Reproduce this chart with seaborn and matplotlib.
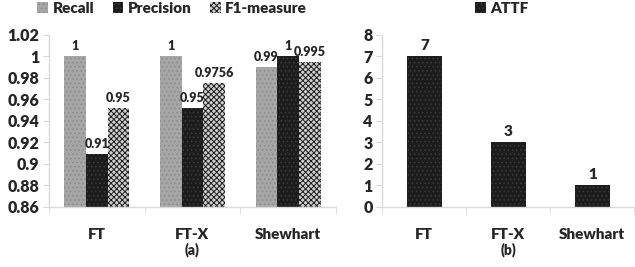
import pandas as pd
import matplotlib
matplotlib.use("Agg")
import matplotlib.pyplot as plt
import matplotlib.patches as mpatches
import seaborn as sns

sns.set_style("white")
plt.rcParams['font.family'] = ['Lato', 'DejaVu Sans']
plt.rcParams['font.weight'] = 'heavy'
plt.rcParams['hatch.linewidth'] = 0.7

# data
methods = ["FT", "FT-X", "Shewhart"]
recall = [1.0, 1.0, 0.99]
precision = [0.909, 0.952, 1.0]
f1 = [0.952, 0.9756, 0.995]
recall_labels = ["1", "1", "0.99"]
precision_labels = ["0.91", "0.95", "1"]
f1_labels = ["0.95", "0.9756", "0.995"]
attf = [7, 3, 1]
attf_labels = ["7", "3", "1"]

df = pd.DataFrame({
    "method": methods * 3,
    "metric": ["Recall"] * 3 + ["Precision"] * 3 + ["F1-measure"] * 3,
    "value": recall + precision + f1,
})
df_attf = pd.DataFrame({"method": methods, "ATTF": attf})

fig = plt.figure(figsize=(6.35, 2.67), dpi=100)
ax1 = fig.add_axes([0.077, 0.225, 0.452, 0.644])
ax2 = fig.add_axes([0.602, 0.225, 0.397, 0.644])

grey = "#d9d9d9"
W = 'heavy'

# (a)
sns.barplot(data=df, x="method", y="value", hue="metric", ax=ax1,
            width=0.68, saturation=1, legend=False,
            palette=["#a6a6a6", "#1c1c1c", "#ffffff"])
styles = [("#a6a6a6", "#8c8c8c", "...."), ("#1c1c1c", "#3a3a3a", "...."),
          ("#cfcfcf", "#1c1c1c", "xxxxxx")]
for cont, (fc, ec, h) in zip(ax1.containers, styles):
    for bar in cont:
        bar.set_facecolor(fc)
        bar.set_edgecolor(ec)
        bar.set_hatch(h)
        bar.set_linewidth(0)
for cont, labs in zip(ax1.containers, [recall_labels, precision_labels, f1_labels]):
    ax1.bar_label(cont, labels=labs, padding=3, fontsize=9, fontweight=W)
ax1.set_ylim(0.86, 1.02)
ax1.set_yticks([0.86, 0.88, 0.9, 0.92, 0.94, 0.96, 0.98, 1.0, 1.02])
ax1.set_yticklabels(["0.86", "0.88", "0.9", "0.92", "0.94", "0.96", "0.98", "1", "1.02"])
ax1.set_xlim(-0.5, 2.5)
ax1.set_xlabel("(a)", fontsize=10, fontweight=W, labelpad=1)
ax1.set_ylabel("")
handles = [mpatches.Patch(facecolor=fc, edgecolor=ec, hatch=h, linewidth=0, label=l)
           for (fc, ec, h), l in zip(styles, ["Recall", "Precision", "F1-measure"])]
ax1.legend(handles=handles, loc="center", bbox_to_anchor=(0.43, 1.155), ncol=3,
           frameon=False, fontsize=11, handlelength=0.7, handleheight=0.7,
           handletextpad=0.3, columnspacing=1.2, borderaxespad=0, borderpad=0)

# (b)
sns.barplot(data=df_attf, x="method", y="ATTF", ax=ax2, color="#1c1c1c",
            width=0.41, saturation=1)
for bar in ax2.patches:
    bar.set_hatch("....")
    bar.set_edgecolor("#3a3a3a")
    bar.set_linewidth(0)
ax2.bar_label(ax2.containers[0], labels=attf_labels, padding=3, fontsize=11, fontweight=W)
ax2.set_ylim(0, 8)
ax2.set_yticks(range(0, 9))
ax2.set_xlim(-0.5, 2.5)
ax2.set_xlabel("(b)", fontsize=10, fontweight=W, labelpad=1)
ax2.set_ylabel("")
h2 = [mpatches.Patch(facecolor="#1c1c1c", edgecolor="#3a3a3a", hatch="....",
                     linewidth=0, label="ATTF")]
ax2.legend(handles=h2, loc="center", bbox_to_anchor=(0.474, 1.155), frameon=False,
           fontsize=11, handlelength=0.7, handleheight=0.7, handletextpad=0.3,
           borderaxespad=0, borderpad=0)

for ax in (ax1, ax2):
    sns.despine(ax=ax, top=True, right=True)
    for s in ("left", "bottom"):
        ax.spines[s].set_color(grey)
        ax.spines[s].set_linewidth(1)
    ax.tick_params(axis="y", length=4, color=grey, labelsize=11.5, pad=3, left=True)
    ax.tick_params(axis="x", which="major", length=0, labelsize=11, pad=15)
    ax.set_xticks([-0.5, 0.5, 1.5, 2.5], minor=True)
    ax.tick_params(axis="x", which="minor", length=5, color=grey, bottom=True)
    for t in ax.get_xticklabels() + ax.get_yticklabels():
        t.set_fontweight(W)

fig.savefig("out.png", dpi=100)
